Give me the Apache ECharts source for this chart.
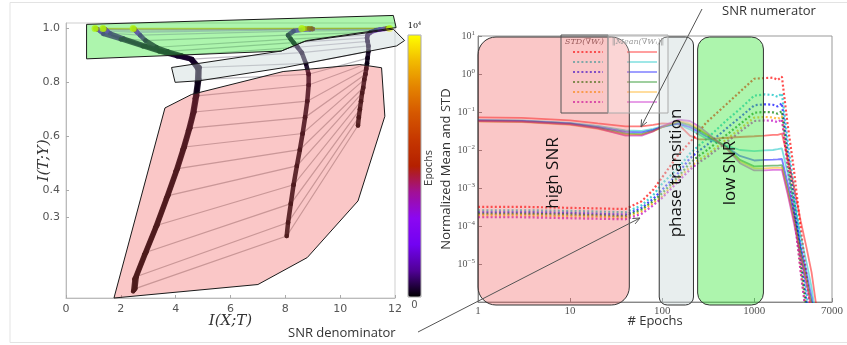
<!DOCTYPE html>
<html><head><meta charset="utf-8">
<script src="https://cdn.jsdelivr.net/npm/echarts@6/dist/echarts.min.js"></script>
<style>html,body{margin:0;padding:0;background:#fff}#c{width:847px;height:345px}</style>
</head><body><div id="c"></div>
<script>
// ================= LEFT PANEL: information plane =================
const IP_EPOCHS = [0,10,20,30,40,50,65,80,100,125,150,200,250,300,350,400,500,1000,2000,3000,4000,5000,6000,8000,10000];
const A1_X = [2.45,2.5,2.85,3.25,3.65,4.0,4.25,4.45,4.6,4.7,4.78,4.8,4.55,4.05,3.4,2.8,2.0,1.36,1.25,1.18,1.14,1.11,1.09,1.07,1.06];
const A1_Y = [0.025,0.07,0.16,0.26,0.37,0.47,0.55,0.62,0.68,0.74,0.80,0.85,0.885,0.897,0.915,0.934,0.96,0.98,0.99,0.995,0.997,0.998,0.999,1.0,1.0];
const A2_X = [2.49,2.54,2.89,3.29,3.69,4.04,4.29,4.49,4.64,4.74,4.82,4.84,4.58,4.1,3.5,2.9,2.1,1.6,1.5,1.45,1.42,1.4,1.38,1.36,1.35];
const A2_Y = [0.03,0.075,0.165,0.265,0.375,0.475,0.555,0.625,0.685,0.745,0.805,0.852,0.886,0.898,0.916,0.935,0.962,0.982,0.99,0.995,0.997,0.998,0.999,1.0,1.0];
const A3_X = [2.53,2.58,2.93,3.33,3.73,4.08,4.33,4.53,4.68,4.78,4.86,4.87,4.6,4.2,3.7,3.3,2.9,2.7,2.6,2.55,2.52,2.5,2.48,2.46,2.45];
const A3_Y = [0.035,0.08,0.17,0.27,0.38,0.48,0.56,0.63,0.69,0.75,0.81,0.855,0.886,0.9,0.915,0.93,0.955,0.975,0.985,0.99,0.995,0.997,0.998,1.0,1.0];
const B_X  = [8.05,8.1,8.2,8.3,8.42,8.53,8.63,8.72,8.8,8.85,8.85,8.75,8.6,8.45,8.3,8.2,8.1,8.3,8.6,8.9,9.0,8.95,8.85,8.7,8.6];
const B_Y  = [0.23,0.28,0.35,0.42,0.49,0.55,0.61,0.67,0.73,0.79,0.83,0.87,0.91,0.93,0.947,0.96,0.975,0.99,0.995,0.997,0.998,0.999,1.0,1.0,1.0];
const C_X  = [10.65,10.68,10.72,10.76,10.8,10.84,10.88,10.92,10.95,10.98,11.0,11.03,11.03,11.0,10.98,11.0,11.1,11.3,11.45,11.6,11.68,11.72,11.75,11.78,11.8];
const C_Y  = [0.64,0.67,0.7,0.73,0.76,0.78,0.81,0.83,0.85,0.87,0.89,0.915,0.935,0.952,0.965,0.975,0.985,0.993,0.996,0.998,0.999,1.0,1.0,1.0,1.0];

const HULL_FIT   = [[1.75,0.0],[7.0,0.05],[8.8,0.15],[10.65,0.36],[11.63,0.674],[11.51,0.854],[10.72,0.866],[7.92,0.84],[4.58,0.755],[3.61,0.705]];
const HULL_TRANS = [[3.85,0.855],[7.85,0.916],[8.7,0.952],[11.94,0.997],[12.35,0.955],[12.06,0.935],[7.92,0.854],[4.89,0.806],[3.98,0.80]];
const HULL_COMP  = [[0.75,1.015],[11.94,1.048],[12.04,1.003],[8.78,0.955],[7.85,0.916],[0.75,0.887]];

const IP_XTICKS = [0,2,4,6,8,10,12];
const IP_YTICKS = [0.3,0.4,0.6,0.8,1.0];
const EPOCH_MAX = 10000;

// ================= RIGHT PANEL: gradient SNR =================
const EPOCHS = [1,3,10,20,40,60,80,100,150,200,250,300,500,700,1000,1300,1600,1800,2000,2300,2700,3200,3700,4200,4800];
const MEAN_RED    = [0.072,0.070,0.060,0.050,0.042,0.042,0.046,0.050,0.048,0.024,0.019,0.019,0.021,0.022,0.023,0.024,0.025,0.025,0.027,0.0066,0.0011,1.35e-4,2.7e-5,6e-6,6e-7];
const MEAN_CYAN   = [0.062,0.060,0.052,0.043,0.033,0.032,0.036,0.042,0.048,0.035,0.026,0.020,0.013,0.010,0.0093,0.0098,0.010,0.0105,0.011,0.0026,4.4e-4,5.5e-5,1.1e-5,2.4e-6,2.4e-7];
const MEAN_BLUE   = [0.060,0.058,0.050,0.040,0.030,0.029,0.034,0.040,0.050,0.040,0.030,0.023,0.012,0.0070,0.0053,0.0055,0.0056,0.0057,0.0058,0.0014,2.3e-4,2.9e-5,5.8e-6,1.3e-6,1.3e-7];
const MEAN_GREEN  = [0.058,0.056,0.048,0.038,0.027,0.026,0.032,0.040,0.055,0.045,0.034,0.026,0.012,0.0055,0.0037,0.0038,0.0039,0.0039,0.0040,9.6e-4,1.6e-4,2e-5,4e-6,9e-7,9e-8];
const MEAN_ORANGE = [0.056,0.054,0.046,0.036,0.025,0.025,0.031,0.040,0.058,0.050,0.037,0.027,0.011,0.0050,0.0033,0.0033,0.0034,0.0034,0.0034,8.2e-4,1.4e-4,1.7e-5,3.4e-6,7.5e-7,7.5e-8];
const MEAN_PURPLE = [0.058,0.056,0.047,0.037,0.024,0.024,0.031,0.042,0.063,0.058,0.042,0.030,0.011,0.0045,0.0029,0.0029,0.0030,0.0030,0.0030,7.2e-4,1.2e-4,1.5e-5,3e-6,6.6e-7,6.6e-8];
const STD_RED     = [3.2e-4,3.2e-4,3.0e-4,2.9e-4,2.8e-4,4.5e-4,9e-4,1.9e-3,7.5e-3,0.016,0.03,0.052,0.16,0.34,0.75,0.78,0.8,0.7,0.85,0.05,3e-3,8.5e-5,5e-6,3e-7,3e-8];
const STD_CYAN    = [2.6e-4,2.6e-4,2.5e-4,2.4e-4,2.3e-4,3.5e-4,6.5e-4,1.3e-3,3.4e-3,8e-3,0.013,0.019,0.06,0.12,0.27,0.29,0.28,0.25,0.31,0.018,1.1e-3,3e-5,1.8e-6,1.1e-7,1e-8];
const STD_BLUE    = [2.3e-4,2.3e-4,2.2e-4,2.1e-4,2.0e-4,3.0e-4,5.2e-4,9e-4,2.5e-3,6e-3,9.5e-3,0.013,0.037,0.072,0.15,0.16,0.155,0.14,0.17,0.01,6e-4,1.7e-5,1e-6,6e-8,6e-9];
const STD_GREEN   = [2.1e-4,2.1e-4,2.0e-4,1.9e-4,1.8e-4,2.7e-4,4.5e-4,7.3e-4,2e-3,4.5e-3,7e-3,9.5e-3,0.025,0.048,0.096,0.1,0.098,0.09,0.105,6e-3,3.7e-4,1e-5,6e-7,4e-8,4e-9];
const STD_ORANGE  = [1.9e-4,1.9e-4,1.8e-4,1.75e-4,1.65e-4,2.4e-4,4e-4,6e-4,1.8e-3,3.5e-3,5.5e-3,7.2e-3,0.019,0.036,0.071,0.074,0.072,0.066,0.078,4.5e-3,2.7e-4,7e-6,4.5e-7,3e-8,3e-9];
const STD_PURPLE  = [1.7e-4,1.7e-4,1.6e-4,1.55e-4,1.5e-4,2.1e-4,3.5e-4,5.5e-4,1.5e-3,3e-3,4.7e-3,6.2e-3,0.016,0.03,0.058,0.06,0.059,0.054,0.064,3.7e-3,2.2e-4,6e-6,3.6e-7,2.4e-8,2.4e-9];

const REGION_NAMES = ['high SNR','phase transition','low SNR'];
const REGION_FROM  = [1,93,243];
const REGION_TO    = [44,219,1260];
const X_TICKS = [1,10,100,1000,7000];

// ================= styling =================
const GNUPLOT = ['#000000','#500196','#7202f2','#8b07f2','#a11096','#b42000','#c53700','#d55700','#e48300','#f2ba00','#ffff00'];
const LAYER_COLORS = ['#ff0000','#00bfbf','#0000ff','#008000','#ffa500','#bf00bf'];
const REGION_FILL = ['rgba(240,80,80,0.32)','rgba(200,215,215,0.42)','rgba(60,230,60,0.42)'];
const REGION_R = [18,8,12];

const LAYERS = [[A1_X,A1_Y],[A2_X,A2_Y],[A3_X,A3_Y],[B_X,B_Y],[C_X,C_Y]];
const HULLS = [HULL_FIT, HULL_TRANS, HULL_COMP];
const HULL_FILL = ['rgba(240,80,80,0.32)','rgba(200,215,215,0.42)','rgba(50,230,50,0.4)'];

// data tables for library
const hatchData = IP_EPOCHS.map(e => [e]);
const segData = [];
LAYERS.forEach((L, li) => { for (let k = 1; k < IP_EPOCHS.length; k++) segData.push([IP_EPOCHS[k], li, k]); });
const pointData = [];
LAYERS.forEach(L => IP_EPOCHS.forEach((e, k) => pointData.push([e, L[0][k], L[1][k]])));

const MEANS = [MEAN_RED,MEAN_CYAN,MEAN_BLUE,MEAN_GREEN,MEAN_ORANGE,MEAN_PURPLE];
const STDS  = [STD_RED,STD_CYAN,STD_BLUE,STD_GREEN,STD_ORANGE,STD_PURPLE];
const stdNames = STDS.map((_, i) => 'std' + (i + 1));
const meanNames = MEANS.map((_, i) => 'mean' + (i + 1));

const series = [];
// 0 hatch lines between layers at each epoch
series.push({
  type: 'custom', xAxisIndex: 0, yAxisIndex: 0, z: 1, silent: true, clip: false,
  data: hatchData,
  renderItem: (params, api) => {
    const i = params.dataIndex;
    const pts = LAYERS.map(L => api.coord([L[0][i], L[1][i]]));
    return { type: 'polyline', shape: { points: pts }, style: { stroke: api.visual('color'), lineWidth: 1.2, fill: null, opacity: 0.28 } };
  }
});
// 1 trajectory segments coloured by epoch
series.push({
  type: 'custom', xAxisIndex: 0, yAxisIndex: 0, z: 2, silent: true, clip: false,
  data: segData,
  renderItem: (params, api) => {
    const li = api.value(1), k = api.value(2);
    const L = LAYERS[li];
    const p0 = api.coord([L[0][k - 1], L[1][k - 1]]);
    const p1 = api.coord([L[0][k], L[1][k]]);
    return { type: 'line', shape: { x1: p0[0], y1: p0[1], x2: p1[0], y2: p1[1] }, style: { stroke: api.visual('color'), lineWidth: 4.5, lineCap: 'round', opacity: 0.9 } };
  }
});
// 2 trajectory points
series.push({
  type: 'scatter', xAxisIndex: 0, yAxisIndex: 0, z: 3, silent: true,
  data: pointData, encode: { x: 1, y: 2 },
  symbolSize: v => (v[0] >= EPOCH_MAX ? 7 : 4.5)
});
// 3 hull polygons
series.push({
  type: 'custom', xAxisIndex: 0, yAxisIndex: 0, z: 4, silent: true, clip: false,
  data: HULLS.map((h, i) => [i]),
  renderItem: (params, api) => {
    const h = HULLS[params.dataIndex];
    return { type: 'polygon', shape: { points: h.map(p => api.coord(p)) }, style: { fill: HULL_FILL[params.dataIndex], stroke: '#1a1a1a', lineWidth: 1 } };
  }
});
// right panel lines
STDS.forEach((arr, i) => series.push({
  name: stdNames[i], type: 'line', xAxisIndex: 1, yAxisIndex: 1, z: 2, symbol: 'none', silent: true,
  data: EPOCHS.map((e, k) => [e, arr[k]]),
  lineStyle: { color: LAYER_COLORS[i], width: 2.2, type: [2, 2.2], opacity: 0.7 },
  itemStyle: { color: LAYER_COLORS[i] }
}));
MEANS.forEach((arr, i) => series.push({
  name: meanNames[i], type: 'line', xAxisIndex: 1, yAxisIndex: 1, z: 2, symbol: 'none', silent: true,
  data: EPOCHS.map((e, k) => [e, arr[k]]),
  lineStyle: { color: LAYER_COLORS[i], width: 1.8, opacity: 0.5 },
  itemStyle: { color: LAYER_COLORS[i] }
}));
// regions
series.push({
  type: 'custom', xAxisIndex: 1, yAxisIndex: 1, z: 4, silent: true, clip: false,
  data: REGION_FROM.map((f, i) => [f, REGION_TO[i]]),
  renderItem: (params, api) => {
    const i = params.dataIndex;
    const cs = params.coordSys;
    const x0 = api.coord([api.value(0), 1])[0];
    const x1 = api.coord([api.value(1), 1])[0];
    const y0 = cs.y + 1, y1 = cs.y + cs.height + 3;
    return { type: 'group', children: [
      { type: 'rect', shape: { x: x0, y: y0, width: x1 - x0, height: y1 - y0, r: REGION_R[i] }, style: { fill: REGION_FILL[i], stroke: '#333', lineWidth: 1 } },
      { type: 'text', x: (x0 + x1) / 2, y: (y0 + y1) / 2 + 2, rotation: Math.PI / 2,
        style: { text: REGION_NAMES[i], fontFamily: 'Open Sans', fontSize: 17, fill: '#111', align: 'center', verticalAlign: 'middle' } }
    ]};
  }
});

function arrow(x1, y1, x2, y2) {
  const dx = x2 - x1, dy = y2 - y1, L = Math.hypot(dx, dy), ux = dx / L, uy = dy / L;
  const bx = x2 - ux * 7, by = y2 - uy * 7;
  return [
    { type: 'line', shape: { x1, y1, x2, y2 }, style: { stroke: '#555', lineWidth: 1 }, z: 10 },
    { type: 'polyline', shape: { points: [[bx - uy * 3, by + ux * 3], [x2, y2], [bx + uy * 3, by - ux * 3]] }, style: { stroke: '#555', lineWidth: 1, fill: null }, z: 10 }
  ];
}
const supRich = { b: { fontFamily: 'Liberation Serif', fontSize: 10, color: '#555', lineHeight: 13 }, s: { fontFamily: 'Liberation Serif', fontSize: 7, color: '#555', lineHeight: 8, verticalAlign: 'top' } };
const legendBase = { orient: 'vertical', top: 49, itemWidth: 30, itemHeight: 6, itemGap: 4.6, padding: 0,
  selectedMode: false, formatter: () => '', textStyle: { fontSize: 1 }, itemStyle: { opacity: 0, borderWidth: 0 } };

const option = {
  animation: false,
  backgroundColor: '#fff',
  grid: [
    { left: 66, top: 23, width: 329, height: 275, show: true, borderColor: '#cfcfcf', borderWidth: 1, backgroundColor: 'transparent' },
    { left: 478, top: 36, width: 354, height: 266, show: true, borderColor: '#999', borderWidth: 1, backgroundColor: 'transparent' }
  ],
  xAxis: [
    { type: 'value', gridIndex: 0, min: 0, max: 12, interval: 2,
      name: 'I(X;T)', nameLocation: 'middle', nameGap: 16, nameMoveOverlap: false,
      nameTextStyle: { fontFamily: 'DejaVu Serif', fontStyle: 'italic', fontSize: 15, color: '#333' },
      axisLine: { lineStyle: { color: '#bbb' } }, axisTick: { inside: true, length: 3, lineStyle: { color: '#aaa' } },
      axisLabel: { fontFamily: 'DejaVu Sans', fontSize: 11, color: '#555', margin: 6 }, splitLine: { show: false } },
    { type: 'log', gridIndex: 1, min: 1, max: 7000, logBase: 10,
      name: '# Epochs', nameLocation: 'middle', nameGap: 13, nameMoveOverlap: false,
      nameTextStyle: { fontFamily: 'Open Sans', fontSize: 13, color: '#333' },
      axisLine: { lineStyle: { color: '#888' } }, axisTick: { inside: true, length: 4, lineStyle: { color: '#888' } },
      axisLabel: { fontFamily: 'Liberation Serif', fontSize: 11, color: '#555', margin: 4, showMaxLabel: true, formatter: v => String(Math.round(v)) },
      splitLine: { show: false } }
  ],
  yAxis: [
    { type: 'value', gridIndex: 0, min: 0, max: 1.02, interval: 0.1,
      name: 'I(T;Y)', nameLocation: 'middle', nameGap: 14, nameMoveOverlap: false,
      nameTextStyle: { fontFamily: 'DejaVu Serif', fontStyle: 'italic', fontSize: 15, color: '#333' },
      axisLine: { lineStyle: { color: '#bbb' } },
      axisTick: { inside: true, length: 3, lineStyle: { color: '#aaa' }, customValues: IP_YTICKS },
      axisLabel: { fontFamily: 'DejaVu Sans', fontSize: 11, color: '#555', margin: 6, customValues: IP_YTICKS, formatter: v => v.toFixed(1) },
      splitLine: { show: false } },
    { type: 'log', gridIndex: 1, min: 1e-6, max: 10, logBase: 10,
      name: 'Normalized Mean and STD', nameLocation: 'middle', nameGap: 25, nameMoveOverlap: false,
      nameTextStyle: { fontFamily: 'Open Sans', fontSize: 13, color: '#333' },
      axisLine: { lineStyle: { color: '#888' } }, axisTick: { inside: true, length: 4, lineStyle: { color: '#888' } },
      axisLabel: { showMinLabel: false, margin: 3, rich: supRich,
        formatter: v => { const e = Math.round(Math.log10(v)); return '{b|10}{s|' + (e < 0 ? '\u2212' : '') + Math.abs(e) + '}'; } },
      splitLine: { show: false } }
  ],
  visualMap: {
    type: 'continuous', min: 0, max: EPOCH_MAX, dimension: 0, seriesIndex: [0, 1, 2],
    inRange: { color: GNUPLOT }, left: 408, top: 35, itemWidth: 13, itemHeight: 262,
    calculable: false, hoverLink: false, padding: 0, text: null, showLabel: false
  },
  legend: [
    Object.assign({ data: stdNames, left: 572 }, legendBase),
    Object.assign({ data: meanNames, left: 626 }, legendBase)
  ],
  graphic: [
    { type: 'rect', shape: { x: 10, y: 2.5, width: 840, height: 340 }, style: { fill: 'none', stroke: '#e3e3e3' }, silent: true, z: -10 },
    { type: 'rect', shape: { x: 408, y: 35, width: 13, height: 262 }, style: { fill: 'none', stroke: '#aaa' }, silent: true, z: 10 },
    { type: 'text', x: 414.5, y: 26, style: { text: '{b|10}{s|4}', rich: { b: { fontFamily: 'DejaVu Serif', fontSize: 8, color: '#555', lineHeight: 10 }, s: { fontFamily: 'DejaVu Serif', fontSize: 5, color: '#555', lineHeight: 6, verticalAlign: 'top' } }, align: 'center', verticalAlign: 'middle' }, silent: true },
    { type: 'text', x: 414.5, y: 305, style: { text: '0', fontFamily: 'DejaVu Sans', fontSize: 10, fill: '#555', align: 'center', verticalAlign: 'middle' }, silent: true },
    { type: 'text', x: 429, y: 168, rotation: Math.PI / 2, style: { text: 'Epochs', fontFamily: 'DejaVu Sans', fontSize: 10, fill: '#444', align: 'center', verticalAlign: 'middle' }, silent: true },
    { type: 'rect', shape: { x: 561, y: 35, width: 47, height: 78 }, style: { fill: 'none', stroke: '#555', lineWidth: 1 }, silent: true, z: 10 },
    { type: 'rect', shape: { x: 608, y: 35, width: 60, height: 78 }, style: { fill: 'rgba(255,255,255,0.25)', stroke: '#aaa', lineWidth: 1 }, silent: true, z: 10 },
    { type: 'text', x: 584.5, y: 42, style: { text: 'STD(\u2207W\u1d62)', fontFamily: 'DejaVu Serif', fontStyle: 'italic', fontSize: 8, fill: '#9a5a5a', align: 'center', verticalAlign: 'middle' }, silent: true, z: 11 },
    { type: 'text', x: 638, y: 42, style: { text: '\u2016Mean(\u2207W\u1d62)\u2016', fontFamily: 'DejaVu Serif', fontStyle: 'italic', fontSize: 8, fill: '#999', align: 'center', verticalAlign: 'middle' }, silent: true, z: 11 },
    { type: 'text', x: 722, y: 11, style: { text: 'SNR numerator', fontFamily: 'Open Sans', fontSize: 13, fill: '#333', align: 'left', verticalAlign: 'middle' }, silent: true },
    { type: 'text', x: 288, y: 333, style: { text: 'SNR denominator', fontFamily: 'Open Sans', fontSize: 13, fill: '#333', align: 'left', verticalAlign: 'middle' }, silent: true },
    ...arrow(702, 9, 641, 127),
    ...arrow(418, 332, 640, 218)
  ],
  series
};
const chart = echarts.init(document.getElementById('c'), null, { renderer: 'canvas' });
chart.setOption(option);
</script></body></html>
